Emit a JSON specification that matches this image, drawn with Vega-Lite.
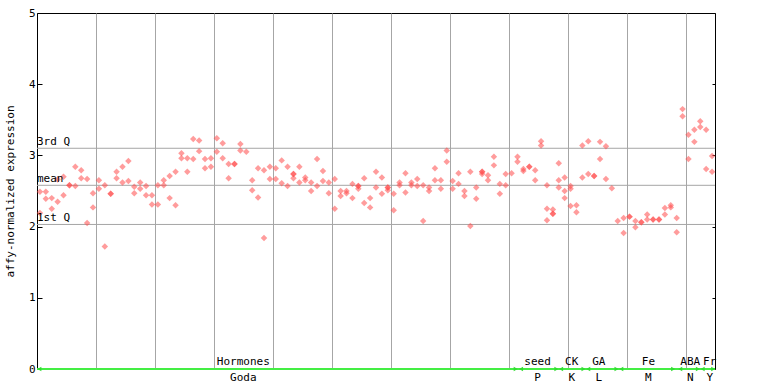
{
  "$schema": "https://vega.github.io/schema/vega-lite/v6.json",
  "width": 678,
  "height": 356,
  "autosize": {"type": "none"},
  "padding": {"left": 37, "top": 13, "right": 53, "bottom": 15},
  "background": "white",
  "config": {
    "view": {"stroke": "black", "strokeWidth": 1},
    "font": "DejaVu Sans Mono",
    "axis": {"labelFont": "DejaVu Sans Mono", "titleFont": "DejaVu Sans Mono", "labelColor": "black", "titleColor": "black", "tickColor": "black"}
  },
  "datasets": {
    "pts": [
      {"i":0,"v":2.49},{"i":0,"v":2.19},{"i":1,"v":2.49},{"i":1,"v":2.39},{"i":2,"v":2.40},{"i":2,"v":2.25},
      {"i":3,"v":2.66},{"i":3,"v":2.35},{"i":4,"v":2.70},{"i":4,"v":2.44},{"i":5,"v":2.58},{"i":5,"v":2.58},
      {"i":6,"v":2.84},{"i":6,"v":2.57},{"i":7,"v":2.79},{"i":7,"v":2.68},{"i":8,"v":2.67},{"i":8,"v":2.05},
      {"i":9,"v":2.47},{"i":9,"v":2.27},{"i":10,"v":2.65},{"i":10,"v":2.53},{"i":11,"v":2.58},{"i":11,"v":1.72},
      {"i":12,"v":2.46},{"i":12,"v":2.46},{"i":13,"v":2.77},{"i":13,"v":2.68},{"i":14,"v":2.84},{"i":14,"v":2.62},
      {"i":15,"v":2.92},{"i":15,"v":2.64},{"i":16,"v":2.56},{"i":16,"v":2.47},{"i":17,"v":2.62},{"i":17,"v":2.53},
      {"i":18,"v":2.57},{"i":18,"v":2.44},{"i":19,"v":2.44},{"i":19,"v":2.31},{"i":20,"v":2.58},{"i":20,"v":2.31},
      {"i":21,"v":2.65},{"i":21,"v":2.58},{"i":22,"v":2.71},{"i":22,"v":2.40},{"i":23,"v":2.77},{"i":23,"v":2.30},
      {"i":24,"v":3.03},{"i":24,"v":2.96},{"i":25,"v":2.96},{"i":25,"v":2.77},{"i":26,"v":3.23},{"i":26,"v":2.95},
      {"i":27,"v":3.21},{"i":27,"v":3.06},{"i":28,"v":2.95},{"i":28,"v":2.82},{"i":29,"v":2.96},{"i":29,"v":2.84},
      {"i":30,"v":3.24},{"i":30,"v":3.05},{"i":31,"v":3.17},{"i":31,"v":2.96},{"i":32,"v":2.88},{"i":32,"v":2.68},
      {"i":33,"v":2.88},{"i":33,"v":2.88},{"i":34,"v":3.16},{"i":34,"v":3.07},{"i":35,"v":3.05},
      {"i":36,"v":2.65},{"i":36,"v":2.51},{"i":37,"v":2.82},{"i":37,"v":2.41},{"i":38,"v":2.79},{"i":38,"v":1.84},
      {"i":39,"v":2.84},{"i":39,"v":2.67},{"i":40,"v":2.82},{"i":40,"v":2.67},{"i":41,"v":2.93},{"i":41,"v":2.61},
      {"i":42,"v":2.84},{"i":42,"v":2.57},{"i":43,"v":2.74},{"i":43,"v":2.74},{"i":43,"v":2.68},
      {"i":44,"v":2.84},{"i":44,"v":2.62},{"i":45,"v":2.69},{"i":45,"v":2.65},{"i":46,"v":2.62},{"i":46,"v":2.50},
      {"i":47,"v":2.95},{"i":47,"v":2.57},{"i":48,"v":2.78},{"i":48,"v":2.64},{"i":49,"v":2.62},{"i":49,"v":2.47},
      {"i":50,"v":2.67},{"i":50,"v":2.25},{"i":51,"v":2.50},{"i":51,"v":2.43},{"i":52,"v":2.50},{"i":52,"v":2.47},
      {"i":53,"v":2.60},{"i":53,"v":2.40},{"i":54,"v":2.57},{"i":54,"v":2.57},{"i":54,"v":2.53},
      {"i":55,"v":2.68},{"i":55,"v":2.33},{"i":56,"v":2.40},{"i":56,"v":2.27},{"i":57,"v":2.77},{"i":57,"v":2.55},
      {"i":58,"v":2.69},{"i":58,"v":2.46},{"i":59,"v":2.55},{"i":59,"v":2.55},{"i":59,"v":2.51},
      {"i":60,"v":2.46},{"i":60,"v":2.23},{"i":61,"v":2.62},{"i":61,"v":2.58},{"i":62,"v":2.75},{"i":62,"v":2.48},
      {"i":63,"v":2.62},{"i":63,"v":2.58},{"i":64,"v":2.67},{"i":64,"v":2.57},{"i":65,"v":2.58},{"i":65,"v":2.08},
      {"i":66,"v":2.55},{"i":66,"v":2.50},{"i":67,"v":2.82},{"i":67,"v":2.65},{"i":68,"v":2.65},{"i":68,"v":2.53},
      {"i":69,"v":3.07},{"i":69,"v":2.91},{"i":70,"v":2.64},{"i":70,"v":2.53},{"i":71,"v":2.75},{"i":71,"v":2.60},
      {"i":72,"v":2.50},{"i":72,"v":2.43},{"i":73,"v":2.77},{"i":73,"v":2.01},{"i":74,"v":2.55},{"i":74,"v":2.39},
      {"i":75,"v":2.77},{"i":75,"v":2.77},{"i":75,"v":2.74},{"i":76,"v":2.72},{"i":76,"v":2.65},
      {"i":77,"v":2.98},{"i":77,"v":2.86},{"i":78,"v":2.60},{"i":78,"v":2.46},{"i":79,"v":2.74},{"i":79,"v":2.58},
      {"i":80,"v":2.75},{"i":81,"v":2.98},{"i":81,"v":2.91},{"i":82,"v":2.81},{"i":82,"v":2.78},
      {"i":83,"v":2.84},{"i":83,"v":2.84},{"i":84,"v":2.79},{"i":84,"v":2.65},{"i":85,"v":3.20},{"i":85,"v":3.14},
      {"i":86,"v":2.58},{"i":86,"v":2.25},{"i":86,"v":2.09},{"i":87,"v":2.24},{"i":87,"v":2.18},{"i":87,"v":2.18},
      {"i":88,"v":2.89},{"i":88,"v":2.65},{"i":88,"v":2.55},{"i":89,"v":2.69},{"i":89,"v":2.50},{"i":89,"v":2.40},
      {"i":90,"v":2.57},{"i":90,"v":2.53},{"i":90,"v":2.29},{"i":91,"v":2.30},{"i":91,"v":2.20},
      {"i":92,"v":3.14},{"i":92,"v":2.69},{"i":93,"v":3.20},{"i":93,"v":2.74},{"i":94,"v":2.71},{"i":94,"v":2.71},
      {"i":95,"v":3.19},{"i":95,"v":2.95},{"i":96,"v":3.13},{"i":96,"v":2.67},{"i":97,"v":2.54},{"i":98,"v":2.08},
      {"i":99,"v":2.12},{"i":99,"v":1.91},{"i":100,"v":2.14},{"i":100,"v":2.14},{"i":101,"v":2.08},{"i":101,"v":1.99},
      {"i":102,"v":2.06},{"i":102,"v":2.06},{"i":103,"v":2.17},{"i":103,"v":2.10},{"i":104,"v":2.10},{"i":104,"v":2.10},
      {"i":105,"v":2.10},{"i":105,"v":2.10},{"i":106,"v":2.26},{"i":106,"v":2.17},{"i":107,"v":2.30},{"i":107,"v":2.27},
      {"i":108,"v":2.12},{"i":108,"v":1.92},{"i":109,"v":3.65},{"i":109,"v":3.55},{"i":110,"v":3.29},{"i":110,"v":2.95},
      {"i":111,"v":3.36},{"i":111,"v":3.19},{"i":112,"v":3.48},{"i":112,"v":3.40},{"i":113,"v":3.36},{"i":113,"v":2.81},
      {"i":114,"v":2.99},{"i":114,"v":2.77}
    ],
    "qlines": [
      {"label": "3rd Q", "v": 3.10},
      {"label": "mean", "v": 2.58},
      {"label": "1st Q", "v": 2.03}
    ],
    "groups": [
      {"top": "Hormones", "bottom": "Goda", "x": 34.5},
      {"top": "seed", "bottom": "P", "x": 84.4},
      {"top": "CK", "bottom": "K", "x": 90.2},
      {"top": "GA", "bottom": "L", "x": 94.8},
      {"top": "Fe", "bottom": "M", "x": 103.2},
      {"top": "ABA", "bottom": "N", "x": 110.3},
      {"top": "Fr", "bottom": "Y", "x": 113.6}
    ],
    "arrows": [
      {"x": -0.1, "dir": "left"}, {"x": 80.7, "dir": "right"},
      {"x": 81.6, "dir": "left"}, {"x": 87.6, "dir": "right"},
      {"x": 88.4, "dir": "left"}, {"x": 92.2, "dir": "right"},
      {"x": 93.0, "dir": "left"}, {"x": 97.8, "dir": "right"},
      {"x": 98.6, "dir": "left"}, {"x": 107.4, "dir": "right"},
      {"x": 108.6, "dir": "left"}, {"x": 111.6, "dir": "right"},
      {"x": 112.4, "dir": "left"}, {"x": 114.2, "dir": "right"}
    ]
  },
  "resolve": {"scale": {"y": "independent"}, "axis": {"y": "independent"}},
  "layer": [
    {
      "layer": [
        {
          "data": {"name": "qlines"},
          "mark": {"type": "rule", "color": "#a6a6a6", "strokeWidth": 1},
          "encoding": {
            "y": {"field": "v", "type": "quantitative"}
          }
        },
        {
          "data": {"name": "pts"},
          "mark": {"type": "point", "shape": "diamond", "filled": true, "color": "#ff4a4a", "opacity": 0.55, "size": 42},
          "encoding": {
            "x": {"field": "i", "type": "quantitative",
                  "scale": {"domain": [-0.5, 114.5], "nice": false, "zero": false},
                  "axis": {"title": null, "labels": false, "ticks": false, "domain": false, "grid": true,
                           "gridColor": "#a6a6a6", "gridOpacity": 1, "gridWidth": 1,
                           "values": [9.5, 19.5, 29.5, 39.5, 49.5, 59.5, 69.5, 79.5, 89.5, 99.5, 109.5]}},
            "y": {"field": "v", "type": "quantitative",
                  "scale": {"domain": [0, 5], "nice": false, "zero": true},
                  "axis": {"title": "affy-normalized expression", "titleFontSize": 11, "titleFontWeight": "normal",
                           "titlePadding": 13, "labelFontSize": 11, "grid": false, "domain": false,
                           "values": [0, 1, 2, 3, 4, 5], "tickSize": -5, "labelPadding": 7, "format": "d"}}
          }
        },
        {
          "data": {"name": "qlines"},
          "mark": {"type": "text", "align": "left", "baseline": "bottom", "dy": -1, "fontSize": 11, "color": "black", "font": "DejaVu Sans Mono"},
          "encoding": {
            "x": {"datum": -0.5},
            "y": {"field": "v", "type": "quantitative"},
            "text": {"field": "label"}
          }
        },
        {
          "data": {"values": [{}]},
          "mark": {"type": "rule", "color": "#44ee44", "strokeWidth": 2},
          "encoding": {"y": {"datum": 0}}
        },
        {
          "data": {"name": "arrows"},
          "mark": {"type": "point", "filled": true, "color": "#33dd33", "size": 22, "opacity": 1},
          "encoding": {
            "x": {"field": "x", "type": "quantitative"},
            "y": {"datum": 0},
            "shape": {"field": "dir", "type": "nominal", "scale": {"domain": ["left", "right"], "range": ["triangle-left", "triangle-right"]}, "legend": null}
          }
        },
        {
          "data": {"name": "groups"},
          "mark": {"type": "text", "baseline": "bottom", "dy": -2, "fontSize": 11, "color": "black", "font": "DejaVu Sans Mono"},
          "encoding": {
            "x": {"field": "x", "type": "quantitative"},
            "y": {"datum": 0},
            "text": {"field": "top"}
          }
        },
        {
          "data": {"name": "groups"},
          "mark": {"type": "text", "baseline": "top", "dy": 3, "fontSize": 11, "color": "black", "font": "DejaVu Sans Mono"},
          "encoding": {
            "x": {"field": "x", "type": "quantitative"},
            "y": {"datum": 0},
            "text": {"field": "bottom"}
          }
        }
      ]
    },
    {
      "data": {"name": "qlines"},
      "mark": {"type": "point", "opacity": 0},
      "encoding": {
        "y": {"field": "v", "type": "quantitative",
              "scale": {"domain": [0, 5], "nice": false, "zero": true},
              "axis": {"orient": "right", "title": null, "labels": false, "grid": false, "domain": false,
                       "values": [0, 1, 2, 3, 4, 5], "tickSize": -3}}
      }
    }
  ]
}
